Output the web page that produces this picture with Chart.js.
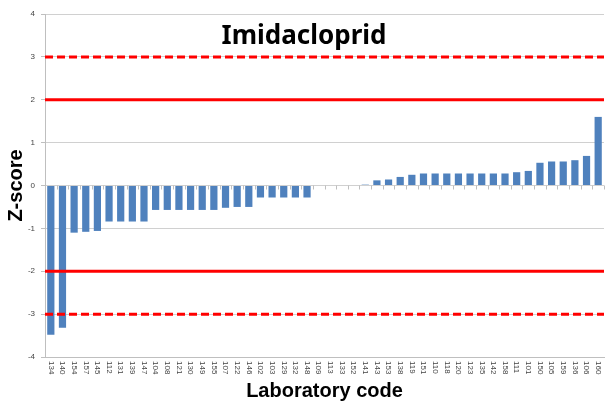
<!DOCTYPE html>
<html lang="en">
<head>
  <meta charset="UTF-8">
  <title>Imidacloprid Z-scores</title>
  <script src="https://cdn.jsdelivr.net/npm/chart.js"></script>
  <style>
    body { margin: 0; background: #fff; }
    #wrap { position: relative; width: 606px; height: 403px; }
  </style>
</head>
<body>
  <div id="wrap"><canvas id="zChart"></canvas></div>
  <script>
    // laboratory codes, in the order shown on the x axis
    const labCodes = ["134", "140", "154", "157", "145", "112", "131", "139", "147", "104", "108", "121",
      "130", "149", "155", "107", "122", "146", "102", "103", "129", "132", "148", "109",
      "113", "133", "152", "141", "143", "153", "138", "119", "151", "110", "118", "120",
      "123", "135", "142", "158", "111", "101", "150", "105", "159", "136", "106", "160"];

    // z-score per lab
    const zScores = [-3.48, -3.32, -1.1, -1.08, -1.06, -0.84, -0.84, -0.84, -0.84, -0.57, -0.57, -0.57,
      -0.57, -0.57, -0.57, -0.52, -0.5, -0.5, -0.28, -0.28, -0.28, -0.28, -0.28, 0,
      0, 0, 0, 0.02, 0.12, 0.14, 0.2, 0.25, 0.28, 0.28, 0.28, 0.28,
      0.28, 0.28, 0.28, 0.28, 0.31, 0.34, 0.53, 0.56, 0.56, 0.59, 0.69, 1.6];

    const yTicks = [-4, -3, -2, -1, 0, 1, 2, 3, 4];
    const warnLimits = [2, -2];    // solid red
    const actionLimits = [3, -3];  // dashed red

    // red limit lines across the full plot width
    const limitLines = {
      id: "limitLines",
      afterDatasetsDraw(chart) {
        const { ctx, chartArea, scales } = chart;
        ctx.save();
        ctx.strokeStyle = "#ff0000";
        ctx.lineWidth = 3;
        warnLimits.forEach(v => {
          const y = scales.y.getPixelForValue(v);
          ctx.setLineDash([]);
          ctx.beginPath(); ctx.moveTo(chartArea.left, y); ctx.lineTo(chartArea.right, y); ctx.stroke();
        });
        actionLimits.forEach(v => {
          const y = scales.y.getPixelForValue(v);
          ctx.setLineDash([8, 4]);
          ctx.beginPath(); ctx.moveTo(chartArea.left, y); ctx.lineTo(chartArea.right, y); ctx.stroke();
        });
        ctx.restore();
      }
    };

    // x labels read top-to-bottom, small ticks under the zero line, and the title
    const extraText = {
      id: "extraText",
      afterDraw(chart) {
        const { ctx, scales } = chart;
        const xs = scales.x;
        const y0 = scales.y.getPixelForValue(0);
        ctx.save();
        ctx.strokeStyle = "#bfbfbf";
        ctx.lineWidth = 1;
        for (let i = 0; i <= labCodes.length; i++) {
          const x = Math.round(xs.getPixelForValue(i - 0.5)) + 0.5;
          ctx.beginPath(); ctx.moveTo(x, y0); ctx.lineTo(x, y0 + 4); ctx.stroke();
        }
        ctx.fillStyle = "#444";
        ctx.font = "8px 'Liberation Sans', Arial, sans-serif";
        ctx.textAlign = "left";
        ctx.textBaseline = "middle";
        labCodes.forEach((code, i) => {
          const x = xs.getPixelForTick(i);
          ctx.save();
          ctx.translate(x, xs.top + 4);
          ctx.rotate(Math.PI / 2);
          ctx.fillText(code, 0, 0);
          ctx.restore();
        });
        ctx.fillStyle = "#000";
        ctx.font = "bold 26px 'Noto Sans', 'Liberation Sans', sans-serif";
        ctx.textAlign = "center";
        ctx.fillText("Imidacloprid", 304, 37);
        ctx.restore();
      }
    };

    new Chart(document.getElementById("zChart"), {
      type: "bar",
      data: {
        labels: labCodes,
        datasets: [{
          data: zScores,
          backgroundColor: "#4f81bd",
          barPercentage: 0.62,
          categoryPercentage: 1
        }]
      },
      options: {
        responsive: true,
        maintainAspectRatio: false,
        animation: false,
        layout: { padding: { top: 14, right: 2, left: 0, bottom: 0 } },
        plugins: { legend: { display: false }, tooltip: { enabled: false } },
        scales: {
          x: {
            grid: { display: false },
            border: { color: "#bfbfbf" },
            ticks: { display: false },
            title: {
              display: true,
              text: "Laboratory code",
              color: "#000",
              font: { size: 20, weight: "bold", family: "'Liberation Sans', Arial, sans-serif" },
              padding: { top: 22, bottom: 0 }
            },
            afterFit(scale) { scale.height = 46; }
          },
          y: {
            min: -4,
            max: 4,
            afterBuildTicks(scale) { scale.ticks = yTicks.map(v => ({ value: v })); },
            grid: { color: "#d0d0d0", drawTicks: true, tickLength: 4, tickColor: "#bfbfbf" },
            border: { color: "#bfbfbf" },
            ticks: {
              color: "#444",
              font: { size: 8, family: "'Liberation Sans', Arial, sans-serif" },
              padding: 6
            },
            title: {
              display: true,
              text: "Z-score",
              color: "#000",
              font: { size: 20, weight: "bold", family: "'Liberation Sans', Arial, sans-serif" },
              padding: { top: 4, bottom: 2 }
            },
            afterFit(scale) { scale.width = 45; }
          }
        }
      },
      plugins: [limitLines, extraText]
    });
  </script>
</body>
</html>
